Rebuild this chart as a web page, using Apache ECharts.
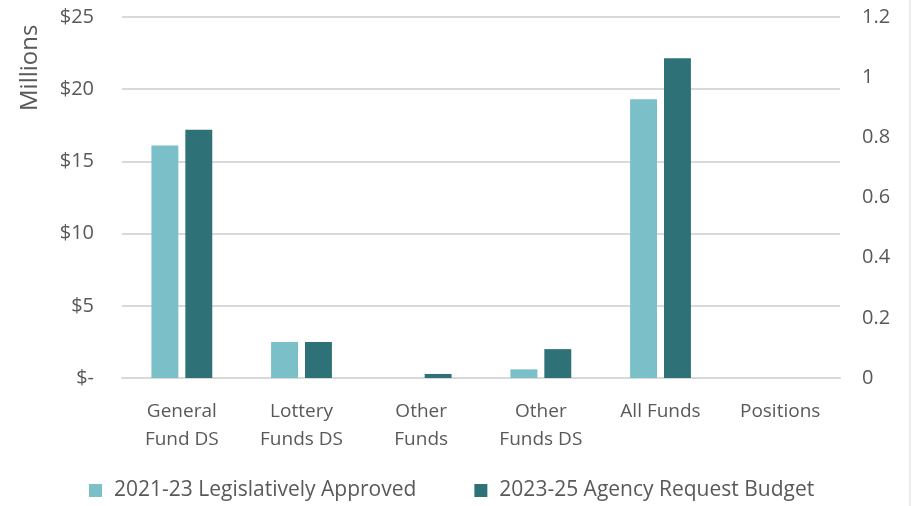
<!DOCTYPE html>
<html>
<head>
<meta charset="utf-8">
<script src="https://cdn.jsdelivr.net/npm/echarts@6/dist/echarts.min.js"></script>
<style>
  html, body { margin: 0; padding: 0; background: #fff; }
  #chart { width: 913px; height: 506px; }
</style>
</head>
<body>
<div id="chart"></div>
<script>
// categories and values (millions of dollars; positions on right axis)
const categories = ["General\nFund DS", "Lottery\nFunds DS", "Other\nFunds", "Other\nFunds DS", "All Funds", "Positions"];
const approved2123 = [16.1, 2.5, 0, 0.6, 19.3, 0];
const request2325 = [17.2, 2.5, 0.28, 2.0, 22.15, 0];
const leftTicks = [0, 5, 10, 15, 20, 25];
const rightTicks = [0, 0.2, 0.4, 0.6, 0.8, 1, 1.2];

const textColor = "#595959";
const font = "Open Sans";

const chart = echarts.init(document.getElementById("chart"));
chart.setOption({
  animation: false,
  textStyle: { fontFamily: font },
  grid: { left: 122, right: 73, top: 17, bottom: 128, containLabel: false },
  legend: {
    bottom: 0,
    left: 84,
    itemWidth: 13,
    itemHeight: 13,
    itemGap: 58,
    icon: "rect",
    textStyle: { color: textColor, fontSize: 21, fontFamily: font, padding: [0, 0, 0, 7] },
    data: ["2021-23 Legislatively Approved", "2023-25 Agency Request Budget"],
  },
  graphic: [
    {
      type: "text",
      x: 18,
      y: 111,
      rotation: Math.PI / 2,
      style: { text: "Millions", fill: textColor, fontSize: 24, fontFamily: font },
    },
    {
      type: "line",
      shape: { x1: 910, y1: 0, x2: 910, y2: 506 },
      style: { stroke: "#d9d9d9", lineWidth: 1 },
    },
  ],
  xAxis: {
    type: "category",
    data: categories,
    axisLine: { lineStyle: { color: "#d9d9d9", width: 2 } },
    axisTick: { show: false },
    axisLabel: { color: textColor, fontSize: 19, lineHeight: 28, margin: 20, interval: 0 },
  },
  yAxis: [
    {
      type: "value",
      min: leftTicks[0],
      max: leftTicks[leftTicks.length - 1],
      interval: 5,
      axisLine: { show: false },
      axisTick: { show: false },
      splitLine: { lineStyle: { color: "#d9d9d9", width: 2 } },
      axisLabel: {
        color: textColor,
        fontSize: 20,
        margin: 28,
        formatter: (v) => (v === 0 ? "$-" : "$" + v),
      },
    },
    {
      type: "value",
      min: rightTicks[0],
      max: rightTicks[rightTicks.length - 1],
      interval: 0.2,
      position: "right",
      axisLine: { show: false },
      axisTick: { show: false },
      splitLine: { show: false },
      axisLabel: { color: textColor, fontSize: 20, margin: 22 },
    },
  ],
  series: [
    {
      name: "2021-23 Legislatively Approved",
      type: "bar",
      data: approved2123,
      barWidth: "22.5%",
      barGap: "26%",
      itemStyle: { color: "#7bc0c8" },
    },
    {
      name: "2023-25 Agency Request Budget",
      type: "bar",
      data: request2325,
      barWidth: "22.5%",
      itemStyle: { color: "#2e7278" },
    },
  ],
});
</script>
</body>
</html>
